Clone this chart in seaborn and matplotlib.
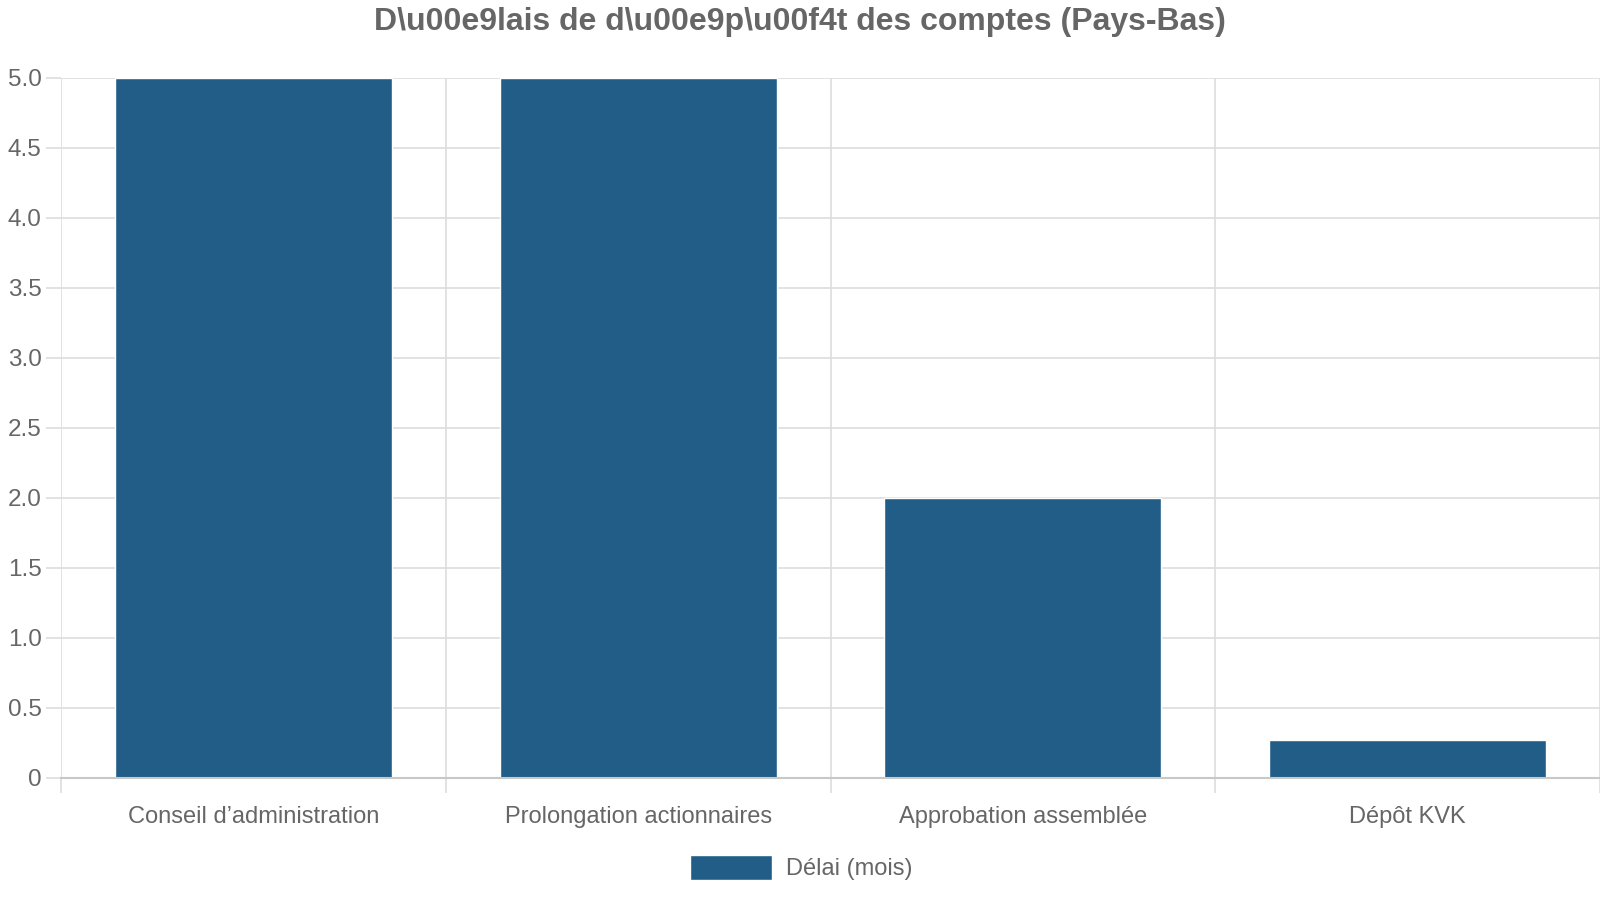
import numpy as np
import seaborn as sns
from matplotlib import pyplot as plt
from matplotlib.ticker import FixedLocator, FuncFormatter

# data
categories = ["Conseil d\u2019administration", "Prolongation actionnaires",
              "Approbation assemblée", "Dépôt KVK"]
delai_mois = [5.0, 5.0, 2.0, 0.27]
series_label = "Délai (mois)"
title = "D\\u00e9lais de d\\u00e9p\\u00f4t des comptes (Pays-Bas)"

bar_color = "#215d87"
text_color = "#666666"
grid_color = "#dddddd"

sns.set_style("white")
plt.rcParams["font.family"] = ["Liberation Sans", "DejaVu Sans"]

fig = plt.figure(figsize=(16, 9), dpi=100)
ax = fig.add_axes([61 / 1600, 1 - 778 / 900, 1 - 61 / 1600, 700 / 900])

sns.barplot(x=categories, y=delai_mois, color=bar_color, width=0.72,
            saturation=1, label=series_label, ax=ax)

ax.set_xlim(-0.5, len(categories) - 0.5)
ax.set_ylim(0, 5.0)

yt = np.arange(0, 5.01, 0.5)
ax.yaxis.set_major_locator(FixedLocator(yt))
ax.yaxis.set_major_formatter(FuncFormatter(lambda v, p: "0" if v == 0 else f"{v:.1f}"))
ax.xaxis.set_minor_locator(FixedLocator(np.arange(-0.5, len(categories), 1.0)))

ax.grid(axis="y", which="major", color=grid_color, linewidth=1.2)
ax.grid(axis="x", which="minor", color=grid_color, linewidth=1.2)
ax.set_axisbelow(True)

for s in ["top", "right", "left"]:
    ax.spines[s].set_visible(False)
ax.spines["bottom"].set_color("#c8c8c8")
ax.spines["bottom"].set_linewidth(1.5)

ax.tick_params(axis="y", left=True, length=11, width=1.2, color=grid_color,
               labelsize=17.5, labelcolor=text_color, pad=3)
ax.tick_params(axis="x", which="major", length=0, labelsize=17,
               labelcolor=text_color, pad=20)
ax.tick_params(axis="x", which="minor", bottom=True, length=11, width=1.2,
               color=grid_color)
ax.set_xlabel("")
ax.set_ylabel("")

leg = ax.legend(loc="center", bbox_to_anchor=(0.5 - 61 / 1600 / 2, -0.128),
                frameon=False, fontsize=17, handlelength=3.5, handleheight=1.3,
                handletextpad=0.6)
for t in leg.get_texts():
    t.set_color(text_color)

fig.text(0.5, 1 - 22 / 900, title, ha="center", va="center",
         fontsize=23, fontweight="bold", color=text_color)

fig.savefig("out.png", dpi=100)
